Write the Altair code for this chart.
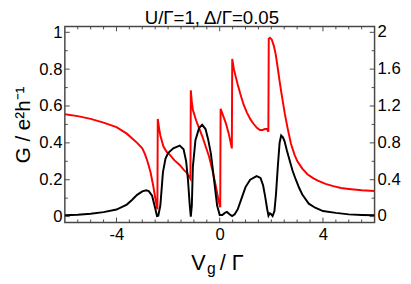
import altair as alt
import pandas as pd

# ---------------- data ----------------
vg_black = [-6.0, -5.5, -5.0, -4.5, -4.0, -3.6, -3.4, -3.2, -3.0, -2.85, -2.75, -2.62, -2.5, -2.43, -2.38,
            -2.3, -2.2, -2.1, -2.0, -1.8, -1.55, -1.4, -1.3, -1.23, -1.16, -1.12, -1.08, -1.04, -0.94,
            -0.8, -0.68, -0.55, -0.45, -0.34, -0.22, -0.1, 0.0, 0.1, 0.2, 0.28, 0.38, 0.48, 0.58, 0.7,
            0.85, 1.0, 1.18, 1.43, 1.58, 1.68, 1.76, 1.84, 1.89, 1.94, 1.98, 2.05, 2.12, 2.18, 2.25,
            2.32, 2.38, 2.45, 2.51, 2.6, 2.7, 2.82, 2.95, 3.08, 3.2, 3.45, 3.7, 4.0, 4.5, 5.0, 5.5, 6.0]
g_black = [0.007, 0.010, 0.015, 0.024, 0.038, 0.065, 0.090, 0.118, 0.137, 0.143, 0.138, 0.113, 0.045, 0.003, 0.005,
           0.06, 0.24, 0.315, 0.345, 0.37, 0.385, 0.365, 0.30, 0.20, 0.06, 0.0, 0.06, 0.27, 0.415,
           0.48, 0.498, 0.475, 0.42, 0.34, 0.20, 0.06, 0.008, 0.008, 0.02, 0.025, 0.013, 0.003, 0.012, 0.04,
           0.10, 0.16, 0.20, 0.22, 0.21, 0.17, 0.11, 0.04, 0.005, 0.018, 0.015, 0.003, 0.03, 0.12, 0.27,
           0.40, 0.44, 0.43, 0.41, 0.36, 0.31, 0.25, 0.20, 0.155, 0.12, 0.07, 0.048, 0.03, 0.02, 0.012, 0.009, 0.007]

vg_red = [-6.0, -5.5, -5.0, -4.5, -4.0, -3.6, -3.4, -3.2, -3.0, -2.9, -2.8, -2.68, -2.58, -2.49, -2.415,
          -2.40, -2.35, -2.30, -2.18, -2.05, -1.93, -1.75, -1.55, -1.4, -1.29, -1.135,
          -1.12, -1.08, -1.04, -0.91, -0.8, -0.66, -0.53, -0.41, -0.28, -0.15, -0.05, 0.02,
          0.035, 0.1, 0.23, 0.35, 0.47,
          0.485, 0.55, 0.61, 0.7, 0.8, 0.92, 1.05, 1.18, 1.30, 1.45, 1.56, 1.66, 1.75, 1.83, 1.885,
          1.90, 1.95, 2.02, 2.1, 2.17, 2.25, 2.32, 2.38, 2.45, 2.52, 2.63, 2.76, 2.9, 3.01, 3.2, 3.4,
          3.6, 3.8, 4.1, 4.4, 4.7, 5.0, 5.5, 6.0]
r_red = [1.11, 1.09, 1.06, 1.02, 0.97, 0.90, 0.85, 0.80, 0.74, 0.68, 0.60, 0.48, 0.34, 0.19, 0.08,
         1.06, 0.96, 0.88, 0.76, 0.70, 0.67, 0.61, 0.56, 0.51, 0.48, 0.41,
         1.37, 1.24, 1.16, 1.04, 0.96, 0.86, 0.75, 0.65, 0.50, 0.33, 0.18, 0.10,
         1.17, 1.12, 1.02, 0.90, 0.74,
         1.71, 1.60, 1.53, 1.43, 1.33, 1.22, 1.13, 1.06, 1.01, 0.96, 0.94, 0.94, 0.95, 0.95, 0.92,
         1.93, 1.94, 1.92, 1.85, 1.76, 1.61, 1.47, 1.36, 1.24, 1.12, 0.96, 0.79, 0.67, 0.60, 0.52, 0.46,
         0.42, 0.39, 0.355, 0.33, 0.31, 0.30, 0.285, 0.277]

x_major = [-4, 0, 4]
x_minor = [-5.5, -5, -4.5, -3.5, -3, -2.5, -2, -1.5, -1, -0.5,
           0.5, 1, 1.5, 2, 2.5, 3, 3.5, 4.5, 5, 5.5]
y_major = [0, 0.2, 0.4, 0.6, 0.8, 1]
y_minor = [0.1, 0.3, 0.5, 0.7, 0.9]
right_labels = [0, 0.4, 0.8, 1.2, 1.6, 2]
title_text = "U/Γ=1, Δ/Γ=0.05"
y_title = "G / e²h⁻¹"

# ---------------- layout ----------------
W, H = 316, 200
FONT = "Liberation Sans"
FRAME = "#474747"
xs = alt.Scale(domain=[-6, 6], nice=False, zero=False)
ys = alt.Scale(domain=[-0.0319, 1.0319], nice=False, zero=False)

x_axis = alt.Axis(values=x_major, labelExpr="datum.value", title=None,
                  ticks=False, domain=False, grid=False, labelFontSize=17,
                  labelFont=FONT, labelColor="black", labelPadding=4)
y_axis = alt.Axis(values=y_major, labelExpr="datum.value", title=y_title,
                  ticks=False, domain=False, grid=False, labelFontSize=17,
                  labelFont=FONT, labelColor="black", labelPadding=3,
                  titleFont=FONT, titleFontSize=21, titleFontWeight="normal",
                  titleColor="black", titlePadding=5)


def X(field):
    return alt.X(field, scale=xs, axis=x_axis)


def Y(field):
    return alt.Y(field, scale=ys, axis=y_axis)


black_df = pd.DataFrame({"vg": vg_black, "g": g_black})
red_df = pd.DataFrame({"vg": vg_red, "r": r_red})

black = alt.Chart(black_df).transform_window(idx="row_number()").mark_line(
    color="black", strokeWidth=2, clip=True).encode(
    x=X("vg:Q"), y=Y("g:Q"), order="idx:Q")

red = alt.Chart(red_df).transform_window(idx="row_number()").transform_calculate(
    yl="datum.r / 2").mark_line(color="#ff0000", strokeWidth=2, clip=True).encode(
    x=X("vg:Q"), y=Y("yl:Q"), order="idx:Q")


def xticks(vals, length, top):
    df = pd.DataFrame({"v": vals})
    y0, y1 = (0, length) if top else (H, H - length)
    return alt.Chart(df).mark_rule(color=FRAME, strokeWidth=1).encode(
        x=X("v:Q"), y=alt.value(y0), y2=alt.value(y1))


def yticks(vals, length, right):
    df = pd.DataFrame({"v": vals})
    x0, x1 = (W, W - length) if right else (0, length)
    return alt.Chart(df).mark_rule(color=FRAME, strokeWidth=1).encode(
        y=Y("v:Q"), x=alt.value(x0), x2=alt.value(x1))


ticks = [xticks(x_major, 5, False), xticks(x_minor, 3, False),
         xticks(x_major, 5, True), xticks(x_minor, 3, True),
         yticks(y_major, 5, False), yticks(y_minor, 3, False),
         yticks(y_major, 5, True), yticks(y_minor, 3, True)]

right_df = pd.DataFrame({"v": right_labels})
right_axis = alt.Chart(right_df).transform_calculate(
    yl="datum.v / 2", lab="'' + datum.v").mark_text(
    align="left", baseline="middle", font=FONT, fontSize=17, color="black").encode(
    y=Y("yl:Q"), x=alt.value(W + 3), text="lab:N")

one = pd.DataFrame({"a": [0]})


def label(txt, x, y, size):
    return alt.Chart(one).mark_text(text=txt, align="left", baseline="alphabetic", font=FONT,
                                    fontSize=size, color="black").encode(x=alt.value(x), y=alt.value(y))


title = alt.Chart(one).mark_text(text=title_text, align="center", baseline="alphabetic", font=FONT,
                                 fontSize=19, color="black").encode(x=alt.value(W / 2 - 8), y=alt.value(-2))
xt = [label("V", 129, 249, 22), label("g", 145, 253, 16), label("/ Γ", 158, 249, 22)]

chart = alt.layer(red, black, *ticks, right_axis, title, *xt).properties(
    width=W, height=H,
    background="white",
    autosize=alt.AutoSizeParams(type="none"),
    padding={"left": 58, "top": 16, "right": 29, "bottom": 60},
).configure_view(stroke=FRAME, strokeWidth=1.5)

chart.save("out.html", embed_options={"renderer": "svg", "actions": False})
